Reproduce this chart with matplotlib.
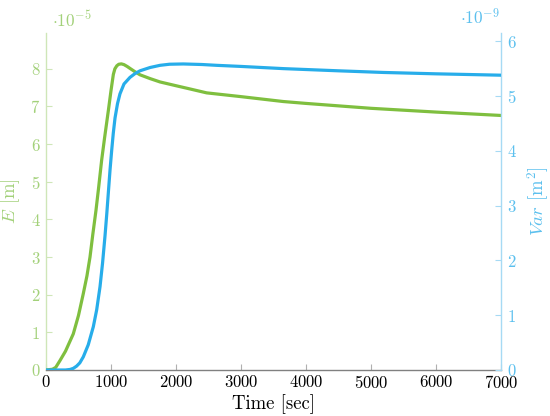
import matplotlib
matplotlib.use("Agg")
import matplotlib.pyplot as plt

plt.rcParams['font.family'] = 'serif'
plt.rcParams['font.serif'] = ['cmr10', 'DejaVu Serif']
plt.rcParams['mathtext.fontset'] = 'cm'
plt.rcParams['axes.formatter.use_mathtext'] = True

# Data (E in 1e-5 m, Var in 1e-9 m^2)
t_E = [0, 100, 150, 215, 300, 420, 500, 574, 630, 677, 720, 769, 810, 856, 900, 960, 1000, 1036,
       1060, 1090, 1120, 1160, 1200, 1250, 1292, 1370, 1446, 1600, 1754, 2000, 2200, 2472,
       3000, 3651, 4000, 5000, 6000, 7000]
E_vals = [0.0, 0.02, 0.07, 0.25, 0.5, 0.96, 1.45, 2.03, 2.5, 3.0, 3.6, 4.24, 4.85, 5.57, 6.15, 6.9, 7.42, 7.85,
          8.0, 8.08, 8.12, 8.13, 8.11, 8.06, 8.01, 7.92, 7.84, 7.74, 7.65, 7.55, 7.47, 7.36,
          7.26, 7.13, 7.08, 6.95, 6.85, 6.76]
t_V = [0, 300, 370, 420, 470, 520, 574, 650, 728, 780, 831, 870, 908, 935, 960, 985, 1010, 1035, 1062,
       1100, 1138, 1200, 1292, 1370, 1446, 1600, 1754, 1900, 2113, 2400, 2626, 3000, 3651, 4500,
       5190, 6000, 7000]
V_vals = [0.0, 0.0, 0.01, 0.03, 0.07, 0.13, 0.24, 0.46, 0.79, 1.1, 1.52, 1.95, 2.45, 2.85, 3.25, 3.65, 4.0, 4.32, 4.6,
          4.86, 5.04, 5.22, 5.34, 5.41, 5.46, 5.52, 5.56, 5.58, 5.585, 5.575, 5.56, 5.54, 5.50, 5.46,
          5.43, 5.405, 5.38]
x_ticks = [0, 1000, 2000, 3000, 4000, 5000, 6000, 7000]
E_ticks = [0, 1, 2, 3, 4, 5, 6, 7, 8]
V_ticks = [0, 1, 2, 3, 4, 5, 6]

green = '#7fbf3f'
green_l = '#a3d17a'
green_s = '#cfe6b8'
blue = '#27adea'
blue_l = '#5cc0ee'
blue_s = '#a6daf4'

fig = plt.figure(figsize=(5.5, 4.16), dpi=100)
ax = fig.add_axes([46/550, 1-370/416, (501-46)/550, (370-33)/416])
ax2 = ax.twinx()

ax.plot(t_E, E_vals, color=green, lw=2.3, zorder=3, solid_joinstyle='round', solid_capstyle='round')
ax2.plot(t_V, V_vals, color=blue, lw=2.3, zorder=3, solid_joinstyle='round', solid_capstyle='round')

ax.set_xlim(0, 7000)
ax.set_ylim(0, 8.95)
ax2.set_ylim(0, 6.15)
ax.set_xticks(x_ticks)
ax.set_yticks(E_ticks)
ax2.set_yticks(V_ticks)

for a in (ax, ax2):
    a.spines['top'].set_visible(False)
ax.spines['right'].set_visible(False)
ax2.spines['left'].set_visible(False)
ax2.spines['bottom'].set_visible(False)
ax.spines['left'].set_color(green_s)
ax.spines['bottom'].set_color('#808080')
ax2.spines['right'].set_color(blue_s)
for s in ('left', 'bottom'):
    ax.spines[s].set_linewidth(1.0)
ax2.spines['right'].set_linewidth(1.0)

ax.tick_params(axis='x', direction='in', length=4, color='#b0b0b0', labelsize=12, labelcolor='black', pad=3)
ax.tick_params(axis='y', direction='in', length=4, color=green_s, labelsize=12, labelcolor=green_l, pad=4)
ax2.tick_params(axis='y', direction='in', length=4, color=blue_s, labelsize=12, labelcolor=blue_l, pad=4)

ax.set_xlabel('Time [sec]', fontsize=13.5)
ax.xaxis.set_label_coords(0.501, -0.072)
ax.set_ylabel('$E$ [m]', fontsize=13.5, color=green_l)
ax.yaxis.set_label_coords(-0.052, 0.5)
ax2.set_ylabel('$Var$ [m$^2$]', fontsize=13.5, color=blue_l, rotation=90)
ax2.yaxis.set_label_coords(1.053, 0.5)

fig.text(52/550, 1-20/416, r'$\cdot10^{-5}$', color=green_l, fontsize=12.5, va='center', ha='left')
fig.text(460/550, 1-17/416, r'$\cdot10^{-9}$', color=blue_l, fontsize=12.5, va='center', ha='left')

fig.savefig('out.png', dpi=100)
